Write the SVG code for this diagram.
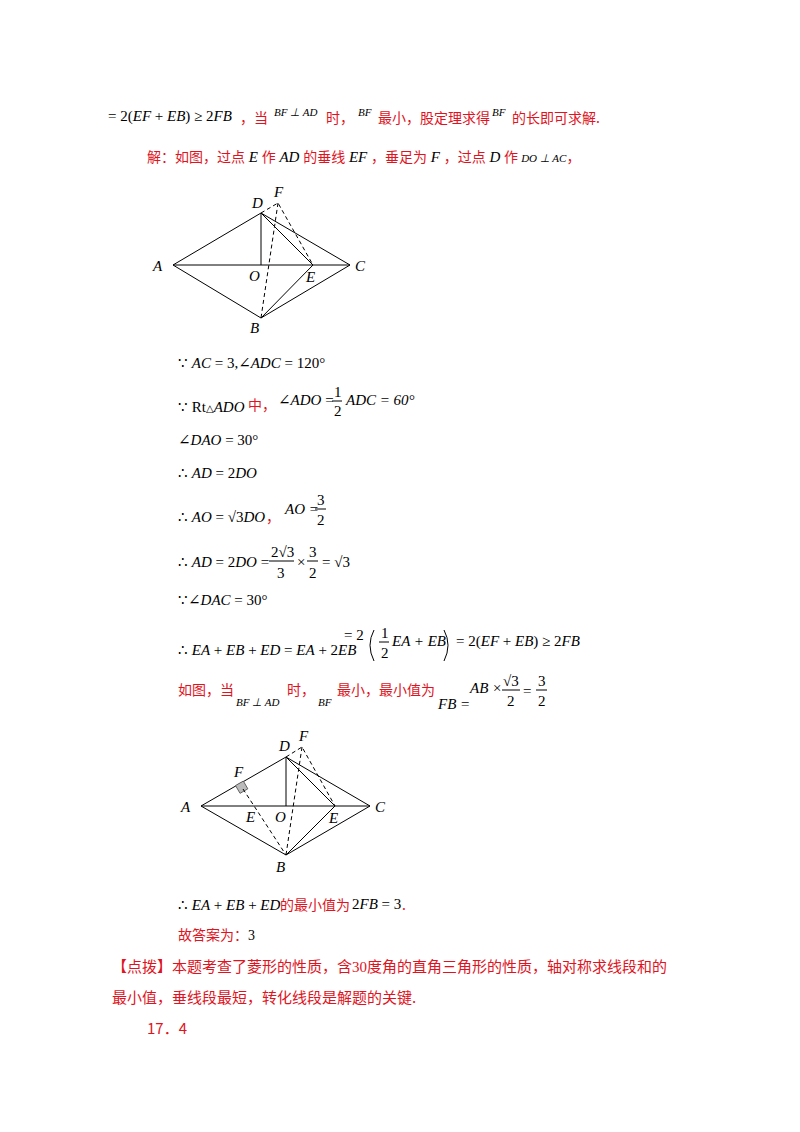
<svg xmlns="http://www.w3.org/2000/svg" width="800" height="1132" viewBox="0 0 800 1132">
<style>
.m{font-family:"Liberation Serif","DejaVu Serif",serif;font-size:15px;font-style:italic;fill:#000}
.n{font-family:"Liberation Serif","DejaVu Serif",serif;font-size:15px;fill:#000}
.r{font-family:"Noto Sans CJK SC",sans-serif;font-size:14px;fill:#e0141e}
.s{font-family:"Liberation Serif",serif;font-size:11px;font-style:italic;fill:#000}
.l{font-family:"Liberation Serif",serif;font-size:15px;font-style:italic;fill:#000}
.ln{stroke:#000;stroke-width:1;fill:none}
.d{stroke:#000;stroke-width:1;fill:none;stroke-dasharray:4,3}
</style>
<rect width="800" height="1132" fill="#fff"/>
<text x="108" y="121" class="n">= 2(<tspan class="m">EF</tspan> + <tspan class="m">EB</tspan>) ≥ 2<tspan class="m">FB</tspan></text>
<text x="240" y="123" class="r">，当</text><text x="274" y="116" class="s">BF ⊥ AD</text>
<text x="326" y="123" class="r">时，</text><text x="358" y="116" class="s">BF</text>
<text x="378" y="123" class="r">最小，股定理求得</text><text x="492" y="116" class="s">BF</text>
<text x="512" y="123" class="r">的长即可求解.</text>
<text x="147" y="162" class="r">解：如图，过点<tspan class="m"> E </tspan>作<tspan class="m"> AD </tspan>的垂线<tspan class="m"> EF </tspan>，垂足为<tspan class="m"> F </tspan>，过点<tspan class="m"> D </tspan>作 <tspan class="s">DO ⊥ AC</tspan>，</text>
<g id="fig1">
<path class="ln" d="M173,265L261,213L350,265L261,318ZM173,265H350M261,213V265M261,213L313,265M261,318L313,265"/>
<path class="d" d="M261,213L278,203L313,265M278,203L261,318"/>
<text x="153" y="271" class="l">A</text><text x="355" y="271" class="l">C</text><text x="252" y="208" class="l">D</text><text x="274" y="197" class="l">F</text>
<text x="249" y="281" class="l">O</text><text x="306" y="282" class="l">E</text><text x="250" y="333" class="l">B</text>
</g>
<text x="178" y="368" class="n">∵ <tspan class="m">AC</tspan> = 3,∠<tspan class="m">ADC</tspan> = 120°</text>
<text x="178" y="412" class="n">∵ Rt<tspan style="font-size:10px">△</tspan><tspan class="m">ADO</tspan></text><text x="248" y="410" class="r">中，</text>
<text x="278" y="405" class="n">∠<tspan class="m">ADO</tspan> =</text><text x="334" y="397" class="n">1</text><line x1="332" y1="401" x2="342" y2="401" class="ln"/><text x="334" y="416" class="n">2</text><text x="346" y="405" class="m">ADC<tspan class="n"> = 60°</tspan></text>
<text x="178" y="445" class="n">∠<tspan class="m">DAO</tspan> = 30°</text>
<text x="178" y="478" class="n">∴ <tspan class="m">AD</tspan> = 2<tspan class="m">DO</tspan></text>
<text x="178" y="522" class="n">∴ <tspan class="m">AO</tspan> = √3<tspan class="m">DO</tspan></text><text x="266" y="522" class="r">，</text>
<text x="285" y="514" class="m">AO<tspan class="n"> =</tspan></text><text x="317" y="505" class="n">3</text><line x1="315" y1="509" x2="326" y2="509" class="ln"/><text x="317" y="525" class="n">2</text>
<text x="178" y="567" class="n">∴ <tspan class="m">AD</tspan> = 2<tspan class="m">DO</tspan> =</text><text x="271" y="557" class="n">2√3</text><line x1="269" y1="561" x2="294" y2="561" class="ln"/><text x="277" y="578" class="n">3</text>
<text x="297" y="567" class="n">×</text><text x="309" y="557" class="n">3</text><line x1="307" y1="561" x2="318" y2="561" class="ln"/><text x="309" y="578" class="n">2</text><text x="322" y="567" class="n">= √3</text>
<text x="178" y="605" class="n">∵∠<tspan class="m">DAC</tspan> = 30°</text>
<text x="178" y="655" class="n">∴ <tspan class="m">EA</tspan> + <tspan class="m">EB</tspan> + <tspan class="m">ED</tspan> = <tspan class="m">EA</tspan> + 2<tspan class="m">EB</tspan></text>
<text x="344" y="640" class="n">= 2</text>
<path class="ln" d="M374,630Q366,645 374,661"/>
<text x="381" y="638" class="n">1</text><line x1="379" y1="642" x2="389" y2="642" class="ln"/><text x="381" y="658" class="n">2</text>
<text x="392" y="646" class="m">EA<tspan class="n"> + </tspan>EB</text>
<path class="ln" d="M444,630Q452,645 444,661"/>
<text x="456" y="646" class="n">= 2(<tspan class="m">EF</tspan> + <tspan class="m">EB</tspan>) ≥ 2<tspan class="m">FB</tspan></text>
<text x="178" y="695" class="r">如图，当</text><text x="236" y="706" class="s">BF ⊥ AD</text><text x="287" y="695" class="r">时，</text>
<text x="318" y="706" class="s">BF</text><text x="337" y="695" class="r">最小，最小值为</text><text x="438" y="709" class="m">FB<tspan class="n"> =</tspan></text>
<text x="470" y="693" class="m">AB<tspan class="n"> ×</tspan></text><text x="503" y="686" class="n">√3</text><line x1="502" y1="690" x2="520" y2="690" class="ln"/><text x="507" y="706" class="n">2</text>
<text x="523" y="696" class="n">=</text><text x="538" y="686" class="n">3</text><line x1="536" y1="690" x2="547" y2="690" class="ln"/><text x="538" y="706" class="n">2</text>
<g id="fig2">
<path class="ln" d="M201,806L286,757L370,806L286,855ZM201,806H370M286,757V806M286,757L335,806M286,855L335,806"/>
<rect x="237" y="783" width="9" height="9" fill="#bbb" stroke="#555" stroke-width="0.8" transform="rotate(-30 241 787)"/>
<path class="d" d="M286,757L302,747L335,806M302,747L286,855M243,789L286,855"/>
<text x="181" y="812" class="l">A</text><text x="375" y="812" class="l">C</text><text x="279" y="751" class="l">D</text><text x="299" y="741" class="l">F</text>
<text x="234" y="777" class="l">F</text><text x="246" y="822" class="l">E</text><text x="275" y="822" class="l">O</text><text x="329" y="823" class="l">E</text><text x="276" y="872" class="l">B</text>
</g>
<text x="178" y="910" class="n">∴ <tspan class="m">EA</tspan> + <tspan class="m">EB</tspan> + <tspan class="m">ED</tspan></text><text x="280" y="910" class="r">的最小值为</text>
<text x="352" y="909" class="n">2<tspan class="m">FB</tspan> = 3</text><text x="402" y="910" class="r">.</text>
<text x="178" y="940" class="r">故答案为：<tspan class="n" style="font-size:14px">3</tspan></text>
<text x="112" y="972" class="r" style="font-size:15px">【点拨】本题考查了菱形的性质，含<tspan class="n" style="font-size:15px;fill:#e0141e">30</tspan>度角的直角三角形的性质，轴对称求线段和的</text>
<text x="112" y="1003" class="r" style="font-size:15px">最小值，垂线段最短，转化线段是解题的关键.</text>
<text x="147" y="1034" class="r" style="font-size:15px">17．4</text>
</svg>
